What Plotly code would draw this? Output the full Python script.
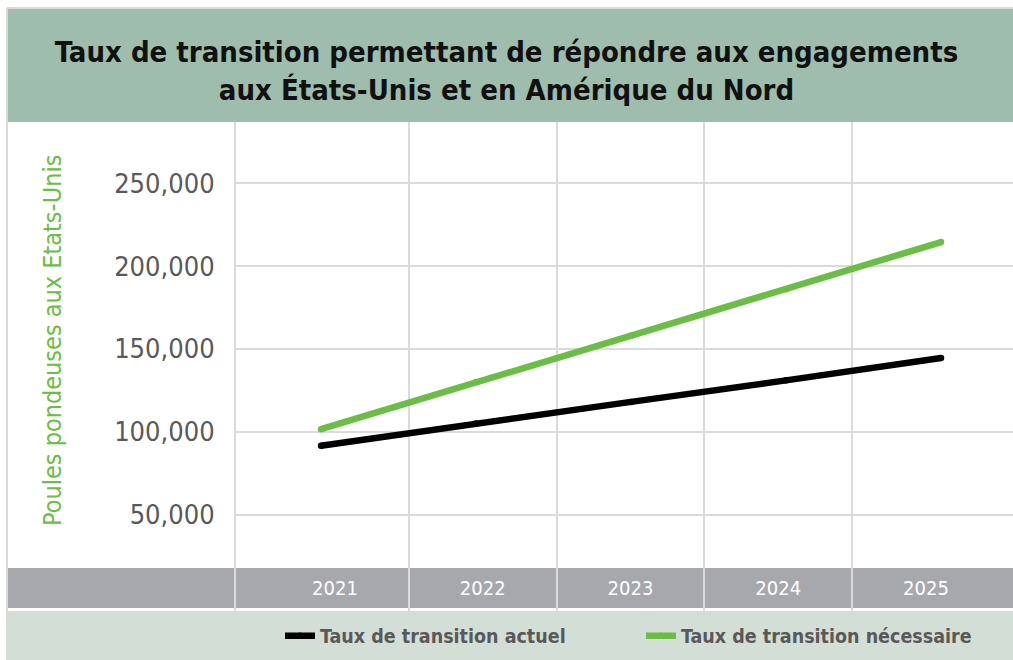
import plotly.graph_objects as go

# ---------------- data ----------------
years = [2021, 2022, 2023, 2024, 2025]
year_labels = ["2021", "2022", "2023", "2024", "2025"]
actuel = [91500, 105000, 118000, 131000, 144500]
necessaire = [101500, 130000, 158000, 186000, 214500]
y_ticks = [50000, 100000, 150000, 200000, 250000]
y_tick_labels = ["50,000", "100,000", "150,000", "200,000", "250,000"]
series_names = ["Taux de transition actuel", "Taux de transition nécessaire"]
title_text = "Taux de transition permettant de répondre aux engagements<br>aux États-Unis et en Amérique du Nord"
y_title = "Poules pondeuses aux Etats-Unis"

# ---------------- layout geometry (pixels) ----------------
W, H = 1013, 660
L, R = 236, 1013
T, B = 122, 611

def fx(p):
    return (p - L) / (R - L)

def fy(p):
    return (B - p) / (B - T)

FONT = "'DejaVu Sans Condensed', 'Liberation Sans Narrow', 'Roboto Condensed', sans-serif"
GREEN = "#6abd45"
BLACK = "#000000"
GRID = "#dadada"
TXT = "#595959"

fig = go.Figure()
for name, vals, col in [(series_names[0], actuel, BLACK), (series_names[1], necessaire, GREEN)]:
    fig.add_trace(go.Scatter(
        x=years, y=vals, name=name, mode="lines+markers",
        line=dict(color=col, width=6.5),
        marker=dict(color=col, size=6.5, line=dict(width=0)),
        hoverinfo="skip",
    ))
# empty trace to make sure the label axis is drawn
fig.add_trace(go.Scatter(x=[], y=[], xaxis="x2", yaxis="y", showlegend=False, hoverinfo="skip"))

# axis for lines (hidden)
x_lo = 2021 - (321 - L) / 155.0
x_hi = 2025 + (R - 941) / 155.0
# axis for labels / column grid
step = 147.75
lab_lo = 2021 + (L - 335) / step
lab_hi = 2021 + (R - 335) / step

shapes = [
    # outer light border
    dict(type="line", xref="paper", yref="paper", x0=fx(7), x1=fx(7), y0=fy(8), y1=fy(660),
         line=dict(color="#d9d9d9", width=2), layer="below"),
    dict(type="line", xref="paper", yref="paper", x0=fx(7), x1=fx(1013), y0=fy(8), y1=fy(8),
         line=dict(color="#d9d9d9", width=2), layer="below"),
    # title band
    dict(type="rect", xref="paper", yref="paper", x0=fx(8), x1=fx(1013), y0=fy(122), y1=fy(9),
         fillcolor="#9ebdac", line=dict(width=0), layer="below"),
    # grey year band
    dict(type="rect", xref="paper", yref="paper", x0=fx(8), x1=fx(1013), y0=fy(608), y1=fy(568),
         fillcolor="#a7a8ac", line=dict(width=0), layer="below"),
    # legend band
    dict(type="rect", xref="paper", yref="paper", x0=fx(8), x1=fx(1013), y0=fy(660), y1=fy(611),
         fillcolor="#d3ded6", line=dict(width=0), layer="below"),
]

fig.update_layout(
    width=W, height=H,
    margin=dict(l=L, r=W - R, t=T, b=H - B, pad=0),
    paper_bgcolor="white", plot_bgcolor="white",
    font=dict(family=FONT, color=TXT),
    title=dict(text=title_text, x=0.5, xref="container", xanchor="center",
               y=1 - 62 / H, yref="container", yanchor="middle",
               font=dict(family=FONT, size=29, color="#111111", weight="bold")),
    xaxis=dict(range=[x_lo, x_hi], visible=False, showgrid=False, zeroline=False),
    xaxis2=dict(range=[lab_lo, lab_hi], overlaying="x", anchor="y", side="bottom",
                tickmode="array", tickvals=years, ticktext=year_labels,
                ticklabelposition="inside", ticks="", ticklabelstandoff=9,
                tickfont=dict(family=FONT, size=20, color="white"),
                showgrid=False, zeroline=False, showline=False,
                minor=dict(tickmode="array", tickvals=[2021.5, 2022.5, 2023.5, 2024.5],
                           showgrid=True, gridcolor=GRID, gridwidth=2, ticks="")),
    yaxis=dict(range=[150000 - (B - 348.9) / 1.656 * 1000, 150000 + (348.9 - T) / 1.656 * 1000],
               tickmode="array", tickvals=y_ticks, ticktext=y_tick_labels,
               tickfont=dict(family=FONT, size=27, color=TXT),
               ticks="", ticklabelstandoff=14,
               showgrid=True, gridcolor=GRID, gridwidth=1.5, zeroline=False,
               showline=True, linecolor=GRID, linewidth=2),
    legend=dict(orientation="h", x=fx(280), xanchor="left", y=fy(636), yanchor="middle",
                bgcolor="rgba(0,0,0,0)", font=dict(family=FONT, size=19.5, color=TXT, weight="bold"),
                entrywidth=316, entrywidthmode="pixels", itemwidth=30),
    shapes=shapes,
    annotations=[dict(text=y_title, xref="paper", yref="paper", x=fx(52), y=fy(341),
                      xanchor="center", yanchor="middle", textangle=-90, showarrow=False,
                      font=dict(family=FONT, size=25, color=GREEN))],
    showlegend=True,
)

fig.write_html("out.html", config={"displayModeBar": False},
               post_script="document.body.style.margin='0px';document.body.style.overflow='hidden';")
